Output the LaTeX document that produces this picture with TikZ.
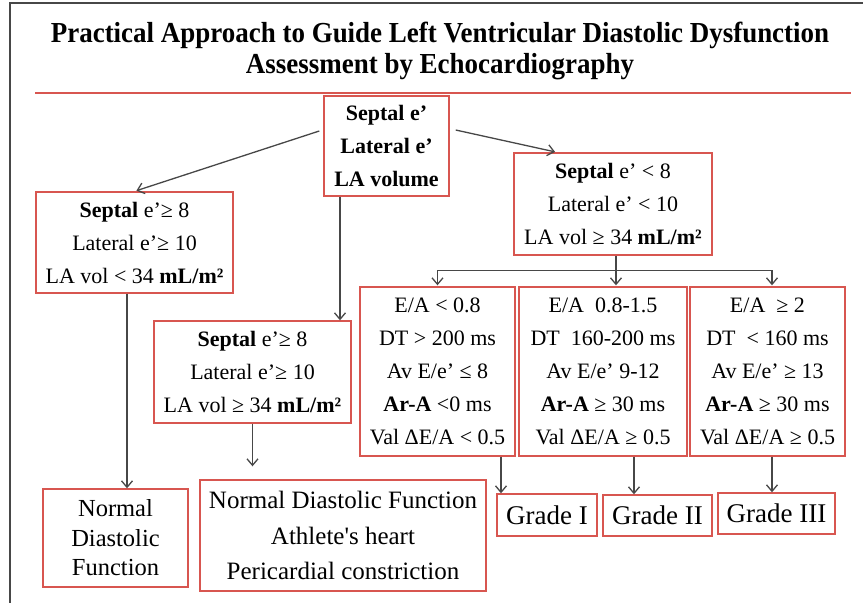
\documentclass[tikz,border=0pt]{standalone}
\usepackage{fontspec}
\setmainfont{Liberation Serif}
\newfontfamily\ttlfont[FakeStretch=0.93]{Liberation Serif}
\usetikzlibrary{arrows.meta}
\definecolor{rdx}{RGB}{216,86,80}
\colorlet{gax}{black!72}
\tikzset{
    boxy/.style={draw=rdx,line width=1.4pt,align=center,inner sep=0pt,font=\fontsize{22}{33}\selectfont,
        execute at begin node=\rule{0pt}{22.5pt}},
    grad/.style={draw=rdx,line width=1.4pt,inner sep=0pt,font=\fontsize{27}{32}\selectfont},
    arro/.style={gax,line width=1.3pt,-{Straight Barb[length=6.5pt,width=11pt]}}
}

\begin{document}
\begin{tikzpicture}[x=1pt,y=-1pt]
            \useasboundingbox (0,0) rectangle (863,603);
            \draw [gax,line width=1.3pt] (10,603) -- (10,3) -- (863,3);
            \node [align=center,font=\ttlfont\bfseries\fontsize{29}{31}\selectfont] (ttl) at (440,51)
                {Practical Approach to Guide Left Ventricular Diastolic Dysfunction\\
                 Assessment by Echocardiography};
            \draw [rdx,line width=1.6pt] (35,93) -- (851,93);
            % first level
            \node [boxy,minimum width=125pt,minimum height=100pt] (top) at (386.5,146)
                {\textbf{Septal e’}\\ \textbf{Lateral e’}\\ \textbf{LA volume}};
            \node [boxy,minimum width=197pt,minimum height=101pt] (normE) at (134.5,242.5)
                {\textbf{Septal} e’≥ 8\\ Lateral e’≥ 10\\ LA vol < 34 \textbf{mL/m²}};
            \node [boxy,minimum width=198pt,minimum height=102pt] (lowE) at (613,204)
                {\textbf{Septal} e’ < 8\\ Lateral e’ < 10\\ LA vol ≥ 34 \textbf{mL/m²}};
            \node [boxy,minimum width=197pt,minimum height=102pt] (athl) at (252.5,372)
                {\textbf{Septal} e’≥ 8\\ Lateral e’≥ 10\\ LA vol ≥ 34 \textbf{mL/m²}};
            % grading criteria
            \node [boxy,minimum width=155pt,minimum height=169pt] (gA) at (437.5,371.5)
                {E/A < 0.8\\ DT > 200 ms\\ Av E/e’ ≤ 8\\ \textbf{Ar-A} <0 ms\\ Val ΔE/A < 0.5};
            \node [boxy,minimum width=168pt,minimum height=169pt] (gB) at (603,371.5)
                {E/A~~0.8-1.5\\ DT~~160-200 ms\\ Av E/e’ 9-12\\ \textbf{Ar-A} ≥ 30 ms\\ Val ΔE/A ≥ 0.5};
            \node [boxy,minimum width=155pt,minimum height=169pt] (gC) at (767.5,371.5)
                {E/A~~≥ 2\\ DT~~< 160 ms\\ Av E/e’ ≥ 13\\ \textbf{Ar-A} ≥ 30 ms\\ Val ΔE/A ≥ 0.5};
            % results
            \node [boxy,minimum width=145pt,minimum height=98pt,font=\fontsize{24.5}{29.5}\selectfont] (normal) at (115.5,538)
                {Normal\\ Diastolic\\ Function};
            \node [boxy,minimum width=286pt,minimum height=111pt,font=\fontsize{25}{35.5}\selectfont] (constr) at (343,535.5)
                {Normal Diastolic Function\\ Athlete\textquotesingle s heart\\ Pericardial constriction};
            \node [grad,minimum width=100pt,minimum height=42pt] (g1) at (547,515) {Grade I};
            \node [grad,minimum width=109pt,minimum height=41pt] (g2) at (657.5,515.5) {Grade II};
            \node [grad,minimum width=117pt,minimum height=41pt] (g3) at (776.5,513.5) {Grade III};
            % connectors
            \draw [arro,shorten >=2pt] ([shift={(-4,-15)}]top.west) -- (normE.north);
            \draw [arro,shorten >=2pt] ([shift={(6,-16)}]top.east) -- ([xshift=-56pt]lowE.north);
            \draw [arro] ([xshift=-46.5pt]top.south) -- ([xshift=-46.5pt]top.south |- athl.north);
            \draw [arro] ([xshift=-7.5pt]normE.south) -- ([xshift=-7.5pt]normE.south |- normal.north);
            \draw [arro,shorten >=13pt] (athl.south) -- (athl.south |- constr.north);
            \coordinate (split) at ([shift={(3,15)}]lowE.south);
            \draw [gax,line width=1.3pt] ([xshift=3pt]lowE.south) -- (split);
            \draw [arro,shorten >=1pt] (split) -| (gA.north);
            \draw [arro,shorten >=1pt] (split) -- (split |- gB.north);
            \draw [arro,shorten >=1pt] (split) -| ([xshift=4.5pt]gC.north);
            \draw [arro] ([xshift=63.5pt]gA.south) -- ([xshift=63.5pt]gA.south |- g1.north);
            \draw [arro] ([xshift=31pt]gB.south) -- ([xshift=31pt]gB.south |- g2.north);
            \draw [arro] ([xshift=4.5pt]gC.south) -- ([xshift=4.5pt]gC.south |- g3.north);
        \end{tikzpicture}
\end{document}
